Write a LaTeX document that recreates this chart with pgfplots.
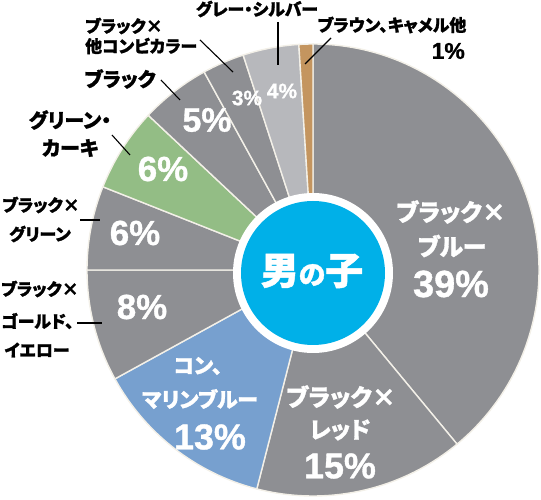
\documentclass[border=0pt]{standalone}
\usepackage{pgfplots}
\pgfplotsset{compat=1.18}
\usepackage{pgfplotstable}
\usepackage{fontspec}
\newfontfamily\jp{Noto Sans CJK JP}[RawFeature=+palt,BoldFeatures={FakeBold=1.3}]
\newfontfamily\num{Liberation Sans}[BoldFeatures={FakeBold=1.0}]
\definecolor{pgray}{HTML}{8E8F93}
\definecolor{pblue}{HTML}{77A0CF}
\definecolor{pgreen}{HTML}{93BD85}
\definecolor{plgray}{HTML}{B7B8BC}
\definecolor{pbrown}{HTML}{C4955F}
\definecolor{cblue}{HTML}{00B0E8}
\definecolor{sep}{HTML}{F3F0E8}
\pgfplotstableread[col sep=comma]{
pct,col
39,pgray
15,pgray
13,pblue
8,pgray
6,pgray
6,pgreen
5,pgray
3,pgray
4,plgray
1,pbrown
}\piedata
\newcommand\fs[1]{\fontsize{#1}{#1}\selectfont}
\newcommand\J[2]{{\jp\bfseries\fs{#1}#2}}
\newcommand\N[2]{{\num\bfseries\fs{#1}#2}}
\begin{document}
\begin{tikzpicture}
\begin{axis}[width=541bp,height=500bp,scale only axis,
  xmin=0,xmax=541,ymin=0,ymax=500,y dir=reverse,hide axis,clip=false]
\coordinate (SW) at (axis cs:0,500);
\coordinate (NE) at (axis cs:541,0);
\pgfplotstablegetrowsof{\piedata}
\pgfmathtruncatemacro\nrows{\pgfplotsretval-1}
\def\cum{0}
\pgfplotsforeachungrouped \i in {0,...,\nrows}{%
  \pgfplotstablegetelem{\i}{pct}\of\piedata \let\slp\pgfplotsretval
  \pgfplotstablegetelem{\i}{col}\of\piedata \let\slc\pgfplotsretval
  \pgfmathsetmacro\sla{90-\cum*3.6}%
  \pgfmathsetmacro\slb{90-(\cum+\slp)*3.6}%
  \edef\temp{\noexpand\fill[\slc,draw=sep,line width=1.4pt,line join=round] (axis cs:313,270) -- ++(\sla:226bp) arc[start angle=\sla,end angle=\slb,radius=226bp] -- cycle;}%
  \temp
  \pgfmathsetmacro\cum{\cum+\slp}%
}
% center
\fill[white] (axis cs:313,273) circle[radius=80bp];
\fill[cblue] (axis cs:313,273) circle[radius=72bp];
\node[text=white,inner sep=0pt] at (axis cs:312,271) {\J{38}{男}\J{27}{の}\J{38}{子}};
% inside labels
\begin{scope}[every node/.style={text=white,inner sep=0pt}]
\node at (axis cs:451,212) {\J{24}{ブラック×}};
\node at (axis cs:452,246) {\J{24}{ブルー}};
\node at (axis cs:451,284) {\N{38}{39\%}};
\node at (axis cs:341,397) {\J{24}{ブラック×}};
\node at (axis cs:340,430) {\J{23}{レッド}};
\node at (axis cs:340,466) {\N{36}{15\%}};
\node at (axis cs:198,366) {\J{21}{コン、}};
\node at (axis cs:200,399) {\J{21}{マリンブルー}};
\node at (axis cs:210,437) {\N{36}{13\%}};
\node at (axis cs:142,307) {\N{35}{8\%}};
\node at (axis cs:135,233) {\N{35}{6\%}};
\node at (axis cs:163,169) {\N{35}{6\%}};
\node at (axis cs:207,120) {\N{34}{5\%}};
\node at (axis cs:247,98) {\N{21}{3\%}};
\node at (axis cs:282,91) {\N{21}{4\%}};
\end{scope}
% outside labels
\begin{scope}[every node/.style={text=black,inner sep=0pt}]
\node[anchor=west] at (axis cs:85,26) {\J{17}{ブラック×}};
\node[anchor=west] at (axis cs:85,46) {\J{17}{他コンビカラー}};
\node at (axis cs:257,9) {\J{17}{グレー・シルバー}};
\node at (axis cs:392,25) {\J{17}{ブラウン、キャメル他}};
\node[anchor=east] at (axis cs:465,51) {\N{23}{1\%}};
\node at (axis cs:120,79) {\J{20}{ブラック}};
\node at (axis cs:70,120) {\J{20}{グリーン・}};
\node at (axis cs:70,148) {\J{20}{カーキ}};
\node at (axis cs:41,205) {\J{17}{ブラック×}};
\node at (axis cs:40,234) {\J{17}{グリーン}};
\node[anchor=west] at (axis cs:1,289) {\J{17}{ブラック×}};
\node[anchor=west] at (axis cs:1,321) {\J{17}{ゴールド、}};
\node at (axis cs:37,350) {\J{17}{イエロー}};
\end{scope}
\begin{scope}[line width=1.1pt]
\draw (axis cs:200,40) -- (axis cs:233,72);
\draw (axis cs:278,22) -- (axis cs:278,65);
\draw (axis cs:305,64) -- (axis cs:331,38);
\draw (axis cs:161,80) -- (axis cs:180,100);
\draw (axis cs:112,135) -- (axis cs:130,155);
\draw (axis cs:80,220) -- (axis cs:100,220);
\draw (axis cs:77,323) -- (axis cs:102,323);
\end{scope}
\end{axis}
\pgfresetboundingbox
\path[use as bounding box] (SW) rectangle (NE);
\end{tikzpicture}
\end{document}
